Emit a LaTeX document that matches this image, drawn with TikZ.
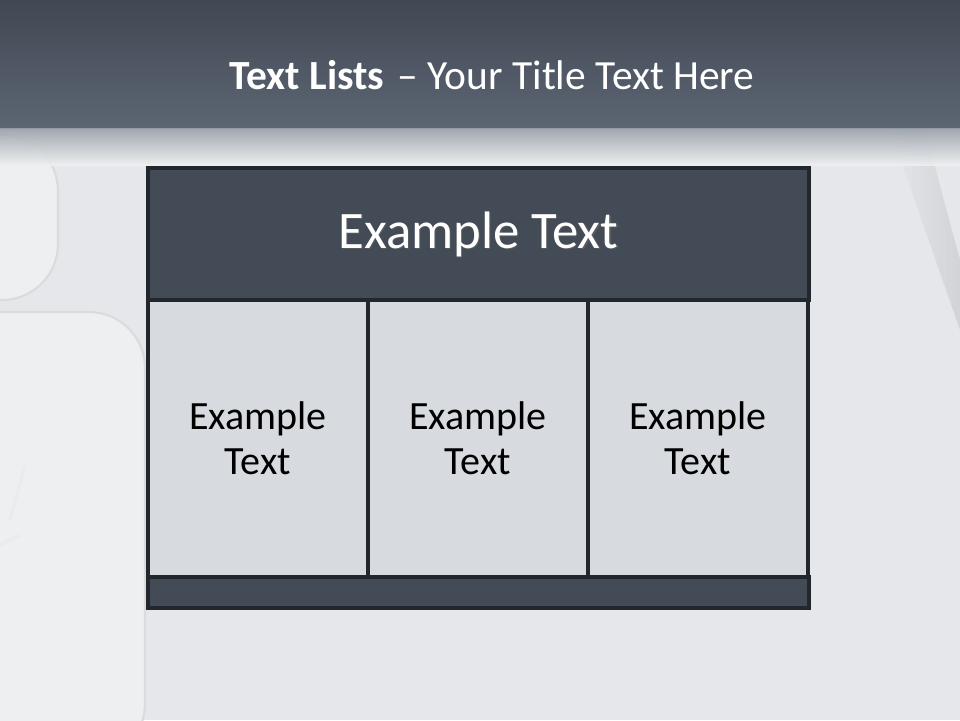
\documentclass[tikz,border=0pt]{standalone}
\usepackage{fontspec}
\setmainfont{Carlito}
\usepackage{tikz}
\usetikzlibrary{
  positioning,
  calc
}
\definecolor{barslate}{RGB}{64,72,83}
\definecolor{barslatelow}{RGB}{92,102,115}
\definecolor{tabledark}{RGB}{66,75,86}
\definecolor{tableline}{RGB}{33,39,45}
\definecolor{cellgrey}{RGB}{215,219,223}
\definecolor{paper}{RGB}{229,231,234}
\definecolor{keytop}{RGB}{238,239,241}
\tikzset{
  tablebox/.style={
    draw=tableline,
    line width=2.2pt,
    inner sep=0pt,
    outer sep=0pt,
    align=center
  },
  headbox/.style={tablebox,fill=tabledark,text=white,
    minimum width=165.25mm,minimum height=33mm},
  cellbox/.style={tablebox,fill=cellgrey,text=black,
    minimum width=55mm,minimum height=69.25mm,
    font=\fontsize{28.5}{32}\selectfont},
  footbox/.style={tablebox,fill=tabledark,
    minimum width=165.25mm,minimum height=7.75mm},
  keyshape/.style={fill=keytop,draw=black!14,line width=1.5pt,rounded corners=14mm},
  headfont/.style={font=\fontsize{37.5}{40}\selectfont},
}

\begin{document}
\begin{tikzpicture}[x=0.25mm,y=-0.25mm]
  % Background
  \useasboundingbox (0,0) rectangle (960,720);
  \fill[paper] (0,0) rectangle (960,720);
  \filldraw[keyshape] (-60,135) rectangle (58,300);
  \filldraw[keyshape] (-60,312) rectangle (145,760);
  \draw[black!8,line width=2pt] (10,520) -- (25,465);
  \draw[black!8,line width=2pt] (0,545) -- (20,535);
  \shade[left color=paper,right color=black!12!paper,opacity=0.7] (890,130) -- (925,130) -- (960,260) -- (960,330) -- cycle;
  \shade[top color=barslate,bottom color=barslatelow] (0,0) rectangle (960,128);
  \shade[top color=barslatelow!55!paper,bottom color=keytop,opacity=0.9] (0,128) rectangle (960,165);

  % Title
  \node[text=white,font=\fontsize{29.5}{36}\selectfont] (title) at (492,75)
    {\textbf{Text Lists} \hspace{0.1em}– Your Title Text Here};

  % Table
  \node[headbox] (head) at (478.5,234) {};
  \node[text=black!60,headfont,opacity=0.6] at ($(head)+(1.5,1.5)$) {Example Text};
  \node[text=white,headfont] (headtext) at (head) {Example Text};
  \node[cellbox,below right=0pt and 0pt of head.south west] (cellA) {Example\\Text};
  \node[cellbox,right=0pt of cellA] (cellB) {Example\\Text};
  \node[cellbox,right=0pt of cellB] (cellC) {Example\\Text};
  \node[footbox,below right=0pt and 0pt of cellA.south west] (foot) {};
\end{tikzpicture}
\end{document}
